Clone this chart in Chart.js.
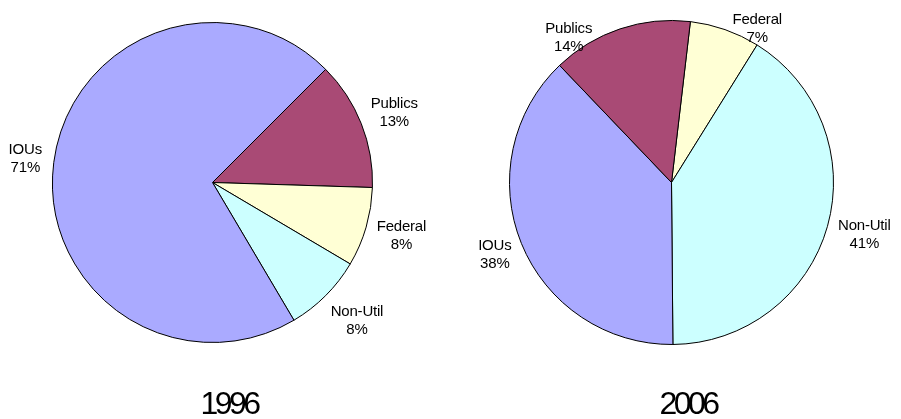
<!DOCTYPE html>
<html>
<head>
<meta charset="utf-8">
<script src="https://cdn.jsdelivr.net/npm/chart.js@4.4.0/dist/chart.umd.min.js"></script>
<style>
body{margin:0;background:#fff;width:901px;height:419px;position:relative;overflow:hidden;font-family:"Liberation Sans",Arial,sans-serif}
canvas{position:absolute;top:0}
.year{position:absolute;top:385px;font-size:32px;letter-spacing:-3.5px;width:200px;text-align:center;color:#000}
</style>
</head>
<body>
<canvas id="pie1996" width="450" height="419" style="left:0"></canvas>
<canvas id="pie2006" width="450" height="419" style="left:451px"></canvas>
<div class="year" style="left:129px">1996</div>
<div class="year" style="left:588px">2006</div>
<script>
// shares in percent, in drawing order (clockwise)
const labels1996 = ['Publics', 'Federal', 'Non-Util', 'IOUs'];
const values1996 = [13, 8, 8, 71];
const labels2006 = ['Federal', 'Non-Util', 'IOUs', 'Publics'];
const values2006 = [7, 41, 38, 14];

const sliceColors = {
    'IOUs': '#aaaaff',
    'Publics': '#a94a75',
    'Federal': '#ffffd5',
    'Non-Util': '#ccffff'
};

// labels outside each slice, two lines (name / percent)
const outsideLabels = {
    id: 'outsideLabels',
    afterDatasetsDraw(chart, args, opts) {
        const ctx = chart.ctx;
        const meta = chart.getDatasetMeta(0);
        const ds = chart.data.datasets[0];
        ctx.save();
        ctx.font = '15px "Liberation Sans", Arial, sans-serif';
        ctx.letterSpacing = '-0.2px';
        ctx.fillStyle = '#000';
        ctx.textAlign = 'center';
        ctx.textBaseline = 'middle';
        meta.data.forEach((arc, i) => {
            const p = arc.getProps(['x', 'y', 'startAngle', 'endAngle', 'outerRadius'], true);
            const name = chart.data.labels[i];
            const tw = (opts.tweaks || {})[name] || {};
            const a = (p.startAngle + p.endAngle) / 2 + (tw.shift || 0) * Math.PI / 180;
            const pad = tw.pad !== undefined ? tw.pad : opts.pad;
            const lines = [name, ds.data[i] + '%'];
            const w = Math.max(...lines.map(t => ctx.measureText(t).width));
            const c = Math.cos(a), s = Math.sin(a);
            const cx = p.x + (p.outerRadius + pad) * c + c * w / 2;
            const cy = p.y + (p.outerRadius + pad) * s + s * 18;
            ctx.fillText(lines[0], cx, cy - 9);
            ctx.fillText(lines[1], cx, cy + 9);
        });
        ctx.restore();
    }
};

function makePie(id, labels, values, rotation, padding, tweaks) {
    new Chart(document.getElementById(id).getContext('2d'), {
        type: 'pie',
        data: {
            labels: labels,
            datasets: [{
                data: values,
                backgroundColor: labels.map(l => sliceColors[l]),
                borderColor: '#000',
                borderWidth: 1,
                hoverOffset: 0
            }]
        },
        options: {
            responsive: false,
            animation: false,
            events: [],
            rotation: rotation,
            layout: { padding: padding },
            plugins: {
                legend: { display: false },
                tooltip: { enabled: false },
                outsideLabels: { pad: 12, tweaks: tweaks }
            }
        },
        plugins: [outsideLabels]
    });
}

makePie('pie1996', labels1996, values1996, 45,
    { top: 22, bottom: 76, left: 52, right: 77 },
    { 'Non-Util': { pad: 18 } });
makePie('pie2006', labels2006, values2006, 6.7,
    { top: 20, bottom: 74, left: 58, right: 67 },
    { 'Publics': { shift: -16, pad: -4 }, 'Federal': { shift: 9, pad: -6 } });
</script>
</body>
</html>
